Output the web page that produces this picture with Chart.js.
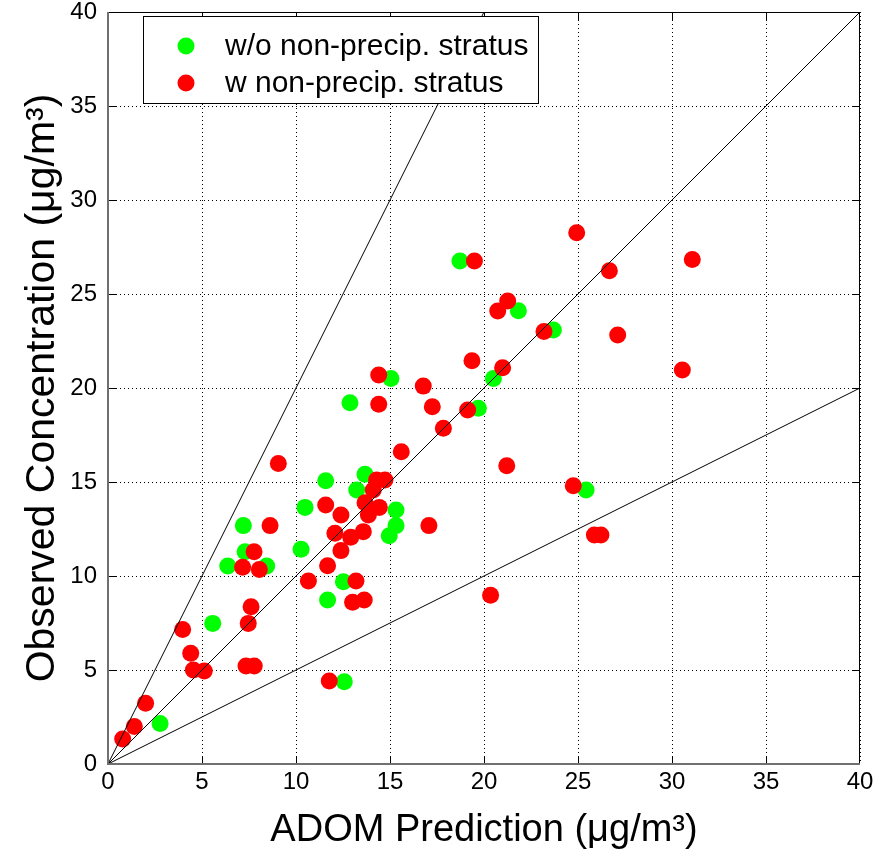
<!DOCTYPE html>
<html><head><meta charset="utf-8">
<script src="https://cdn.jsdelivr.net/npm/chart.js@4"></script>
<style>html,body{margin:0;padding:0;background:#fff}canvas{display:block}</style>
</head><body>
<canvas id="c" width="888" height="857"></canvas>
<script>
const xTitle = 'ADOM Prediction (\u03BCg/m\u00B3)';
const yTitle = 'Observed Concentration (\u03BCg/m\u00B3)';
const seriesLabels = ['w/o non-precip. stratus', 'w non-precip. stratus'];
const tickValues = [0, 5, 10, 15, 20, 25, 30, 35, 40];

// [ADOM prediction, observed]
const woStratus = [
  [18.72,26.76],[21.83,24.11],[23.69,23.09],[15.05,20.5],[20.5,20.5],[12.87,19.22],
  [19.7,18.92],[13.67,15.41],[11.58,15.07],[13.23,14.57],[25.43,14.57],[15.32,13.51],
  [10.48,13.65],[15.32,12.68],[7.2,12.68],[14.96,12.14],[10.27,11.42],[7.29,11.29],
  [6.37,10.53],[8.44,10.53],[12.52,9.7],[11.68,8.72],[5.57,7.48],[12.57,4.38],[2.77,2.16]
];
const wStratus = [
  [24.93,28.26],[19.49,26.76],[26.67,26.24],[31.08,26.84],[21.26,24.63],[20.73,24.1],
  [23.19,23.0],[27.11,22.82],[19.36,21.45],[20.99,21.08],[30.55,20.96],[16.77,20.1],
  [14.4,20.69],[14.4,19.13],[17.25,19.0],[19.13,18.83],[17.84,17.86],[15.6,16.61],
  [21.21,15.87],[9.06,15.99],[14.29,15.11],[14.73,15.11],[14.11,14.57],[24.75,14.8],
  [13.67,13.9],[14.43,13.65],[11.58,13.78],[13.85,13.24],[12.39,13.24],[17.07,12.68],
  [8.62,12.68],[13.58,12.36],[12.07,12.27],[12.91,12.06],[25.87,12.18],[26.22,12.18],
  [12.39,11.35],[7.77,11.29],[11.68,10.55],[7.16,10.46],[8.05,10.35],[10.66,9.73],
  [13.19,9.73],[13.63,8.72],[13.01,8.6],[20.35,8.97],[7.61,8.37],[7.46,7.48],
  [3.97,7.16],[4.4,5.89],[4.54,5.0],[5.12,4.95],[7.34,5.21],[7.78,5.21],
  [11.77,4.41],[2.0,3.23],[1.4,1.99],[0.78,1.33]
];
const line1to1 = [[0,0],[40,40]];
const line2to1 = [[0,0],[20,40]];
const line1to2 = [[0,0],[40,20]];

const toXY = a => a.map(p => ({x: p[0], y: p[1]}));
const FONT = "'Liberation Sans', Arial, Helvetica, sans-serif";

const refLine = (d) => ({
  type: 'scatter', data: toXY(d), showLine: true, borderColor: '#000', borderWidth: 1,
  pointRadius: 0, pointHoverRadius: 0, order: -1, isRef: true, fill: false
});

const framePlugin = {
  id: 'framePlugin',
  afterDraw(chart) {
    const {ctx, chartArea: a, scales: {x, y}} = chart;
    ctx.save();
    ctx.strokeStyle = '#000';
    ctx.lineWidth = 1;
    const tl = 8;
    tickValues.forEach(v => {
      if (v === tickValues[0] || v === tickValues[tickValues.length - 1]) return;
      const px = Math.round(x.getPixelForValue(v)) + 0.5;
      ctx.beginPath();
      ctx.moveTo(px, a.bottom); ctx.lineTo(px, a.bottom - tl);
      ctx.moveTo(px, a.top); ctx.lineTo(px, a.top + tl);
      ctx.stroke();
      const py = Math.round(y.getPixelForValue(v)) + 0.5;
      ctx.beginPath();
      ctx.moveTo(a.left, py); ctx.lineTo(a.left + tl, py);
      ctx.moveTo(a.right, py); ctx.lineTo(a.right - tl, py);
      ctx.stroke();
    });
    ctx.strokeStyle = '#000';
    ctx.lineWidth = 1;
    ctx.strokeRect(Math.round(a.left) + 0.5, Math.round(a.top) + 0.5, Math.round(a.width) - 1, Math.round(a.height) - 1);
    ctx.strokeStyle = '#707070';
    ctx.lineWidth = 2;
    ctx.beginPath();
    ctx.moveTo(a.left, a.top); ctx.lineTo(a.left, a.bottom); ctx.lineTo(a.right, a.bottom);
    ctx.stroke();

    const ds = chart.data.datasets.filter(d => !d.isRef);
    const bx = a.left + 35, by = a.top + 4, bw = 395, bh = 87;
    ctx.fillStyle = '#fff';
    ctx.fillRect(bx, by, bw, bh);
    ctx.strokeStyle = '#000';
    ctx.lineWidth = 1;
    ctx.strokeRect(bx + 0.5, by + 0.5, bw, bh);
    ctx.font = '30px ' + FONT;
    ctx.textBaseline = 'middle';
    ctx.textAlign = 'left';
    ds.forEach((d, i) => {
      const cy = by + 30 + i * 37;
      ctx.fillStyle = d.backgroundColor;
      ctx.beginPath();
      ctx.arc(bx + 43, cy, 8.5, 0, Math.PI * 2);
      ctx.fill();
      ctx.fillStyle = '#000';
      ctx.fillText(d.label, bx + 82, cy + 1);
    });
    ctx.restore();
  }
};

new Chart(document.getElementById('c'), {
  type: 'scatter',
  data: {
    datasets: [
      {label: seriesLabels[0], data: toXY(woStratus), backgroundColor: '#00ff00', borderWidth: 0,
       pointRadius: 8.5, pointHoverRadius: 8.5, order: 1},
      {label: seriesLabels[1], data: toXY(wStratus), backgroundColor: '#ff0000', borderWidth: 0,
       pointRadius: 8.5, pointHoverRadius: 8.5, order: 0},
      refLine(line1to1), refLine(line2to1), refLine(line1to2)
    ]
  },
  options: {
    responsive: false,
    animation: false,
    devicePixelRatio: 1,
    layout: {autoPadding: false, padding: {top: 12, right: 28, left: 0, bottom: 0}},
    plugins: {legend: {display: false}, tooltip: {enabled: false}},
    scales: {
      x: {
        type: 'linear', min: 0, max: 40,
        afterBuildTicks: s => { s.ticks = tickValues.map(v => ({value: v})); },
        afterFit: s => { s.height = 93; s.paddingLeft = 0; s.paddingRight = 0; },
        ticks: {font: {size: 24, family: FONT, lineHeight: 1}, color: '#000', padding: 6, maxRotation: 0},
        grid: {color: '#000', lineWidth: 1, drawTicks: false},
        border: {display: false, dash: [1, 3]},
        title: {display: true, text: xTitle, color: '#000', font: {size: 38, family: FONT}, padding: {top: 0, bottom: 4}}
      },
      y: {
        type: 'linear', min: 0, max: 40,
        afterBuildTicks: s => { s.ticks = tickValues.map(v => ({value: v})); },
        afterFit: s => { s.width = 108; s.paddingTop = 0; s.paddingBottom = 0; },
        ticks: {font: {size: 24, family: FONT, lineHeight: 1}, color: '#000', padding: 11},
        grid: {color: '#000', lineWidth: 1, drawTicks: false},
        border: {display: false, dash: [1, 3]},
        title: {display: true, text: yTitle, color: '#000', font: {size: 41, family: FONT}, padding: {top: 18, bottom: 0}}
      }
    }
  },
  plugins: [framePlugin]
});
</script>
</body></html>
